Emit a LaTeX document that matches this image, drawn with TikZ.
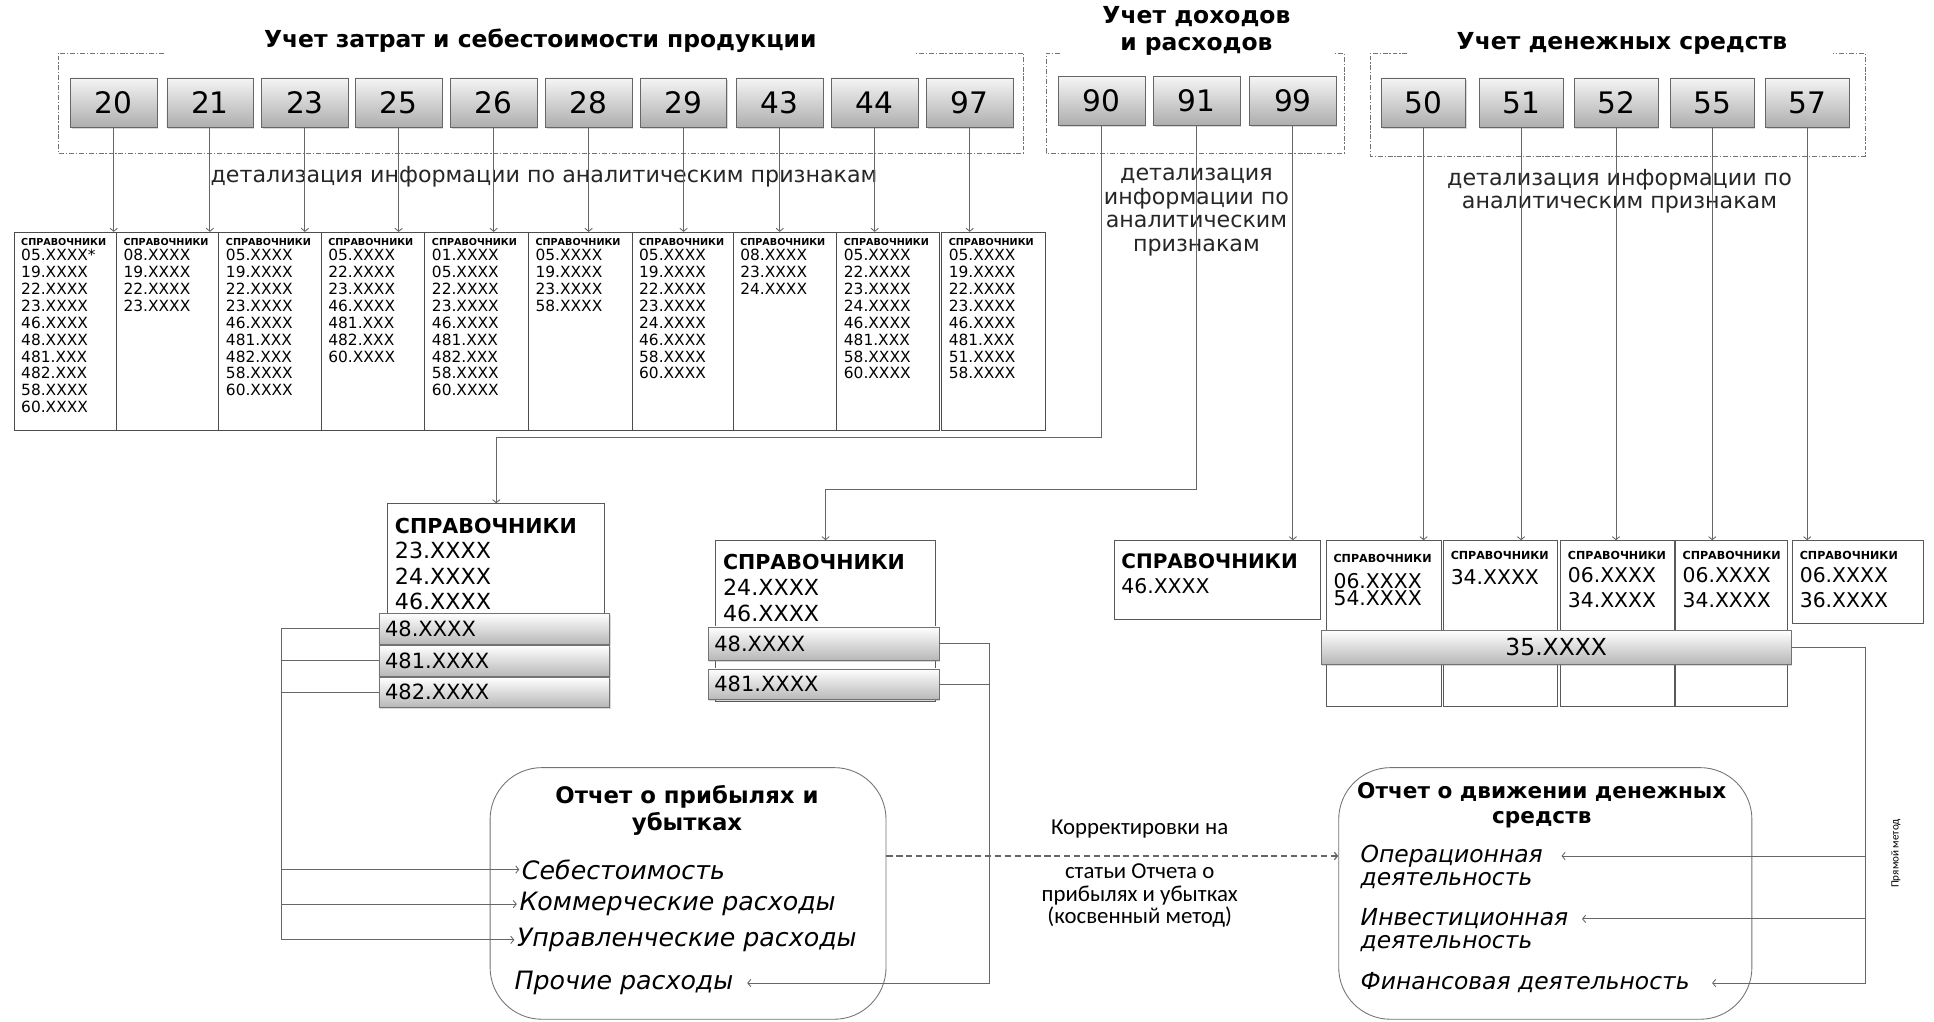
\documentclass[tikz,border=0pt]{standalone}
\usepackage{fontspec}
\setmainfont{DejaVu Sans}
\newfontfamily\calibri{Carlito}
\usetikzlibrary{arrows.meta,shadows}
\newcommand{\fsz}[2]{\fontsize{#1}{#2}\selectfont}
\newcommand{\sprhdr}{{\fsz{7.8}{10}\bfseries СПРАВОЧНИКИ}}
\newcommand{\sprsmall}{{\fsz{9}{10}\bfseries СПРАВОЧНИКИ}}

\begin{document}
\begin{tikzpicture}[x=1pt,y=-1pt,>={Straight Barb[length=2.5pt,width=6pt]},
    conn/.style={draw=black!60,line width=0.7pt},
    frame/.style={draw=black!55,line width=0.6pt,dash pattern=on 4pt off 1.5pt on 1pt off 1.5pt},
    title/.style={font=\fsz{19}{22}\bfseries,align=center},
    note/.style={font=\fsz{18}{18},align=center,text=black!85},
    acc/.style={draw=black!60,top color=black!4,bottom color=black!32,anchor=north west,
        minimum width=70pt,minimum height=40pt,inner sep=0pt,font=\fsz{24}{24},
        drop shadow={opacity=0.3,shadow xshift=1pt,shadow yshift=-1.5pt}},
    col/.style={draw=black!70,line width=0.7pt,anchor=north west,minimum height=161pt,inner sep=0pt},
    list/.style={anchor=north west,align=left,inner sep=0pt,font=\fsz{12.5}{13.7}},
    sbox/.style={draw=black!65,line width=0.7pt,anchor=north west,inner sep=0pt},
    bar/.style={draw=black!55,top color=white,bottom color=black!28,anchor=north west,
        inner xsep=5pt,inner ysep=0pt,text width=177pt,align=left,font=\fsz{17}{17},
        drop shadow={opacity=0.3,shadow xshift=1pt,shadow yshift=-1.5pt}},
    report/.style={draw=black!55,line width=0.7pt,rounded corners=42pt,anchor=north west},
    item/.style={font=\fsz{20.5}{20}\itshape,anchor=west,inner sep=2pt}]

    \fill[white] (0,0) rectangle (1568,828);
    \useasboundingbox (0,0) rectangle (1568,828);

    % группы счетов
    \node[title] (t1) at (438,33) {Учет затрат и себестоимости продукции};
    \node[title] (t2) at (970,25) {Учет доходов\\и расходов};
    \node[title] (t3) at (1315,35) {Учет денежных средств};
    \draw[frame] (133,43) -| (47,124) -| (830,43) -- (741,43);
    \draw[frame] (859,43) -| (848,124) -| (1090,43) -- (1081,43);
    \draw[frame] (1141,43) -| (1111,127) -| (1512,43) -- (1486,43);

    \foreach \n/\x in {20/57,21/135,23/212,25/288,26/365,28/442,29/519,43/597,44/674,97/751}
        \node[acc] (a\n) at (\x,63) {\n};
    \foreach \n/\x in {90/858,91/935,99/1013}
        \node[acc,minimum height=39pt] (a\n) at (\x,62) {\n};
    \foreach \n/\x in {50/1120,51/1199,52/1276,55/1354,57/1431}
        \node[acc,minimum width=68pt] (a\n) at (\x,63) {\n};

    \node[note] (d1) at (441,143) {детализация информации по аналитическим признакам};
    \node[note,font=\fsz{18}{19}] (d2) at (970,172) {детализация\\информации по\\аналитическим\\признакам};
    \node[note] (d3) at (1313,155) {детализация информации по\\аналитическим признакам};

    % справочники по счетам затрат
    \foreach \n/\x/\w in {20/11/83,21/94/83,23/177/83,25/260/84,26/344/84,28/428/84,29/512/82,43/594/84,44/678/83,97/763/84}
        \node[col,minimum width=\w pt] (c\n) at (\x,188) {};
    \node[list] (l20) at ([shift={(6,5)}]c20.north west) {\sprhdr\\[-1.4pt]05.XXXX*\\19.XXXX\\22.XXXX\\23.XXXX\\46.XXXX\\48.XXXX\\481.XXX\\482.XXX\\58.XXXX\\60.XXXX};
    \node[list] (l21) at ([shift={(6,5)}]c21.north west) {\sprhdr\\[-1.4pt]08.XXXX\\19.XXXX\\22.XXXX\\23.XXXX};
    \node[list] (l23) at ([shift={(6,5)}]c23.north west) {\sprhdr\\[-1.4pt]05.XXXX\\19.XXXX\\22.XXXX\\23.XXXX\\46.XXXX\\481.XXX\\482.XXX\\58.XXXX\\60.XXXX};
    \node[list] (l25) at ([shift={(6,5)}]c25.north west) {\sprhdr\\[-1.4pt]05.XXXX\\22.XXXX\\23.XXXX\\46.XXXX\\481.XXX\\482.XXX\\60.XXXX};
    \node[list] (l26) at ([shift={(6,5)}]c26.north west) {\sprhdr\\[-1.4pt]01.XXXX\\05.XXXX\\22.XXXX\\23.XXXX\\46.XXXX\\481.XXX\\482.XXX\\58.XXXX\\60.XXXX};
    \node[list] (l28) at ([shift={(6,5)}]c28.north west) {\sprhdr\\[-1.4pt]05.XXXX\\19.XXXX\\23.XXXX\\58.XXXX};
    \node[list] (l29) at ([shift={(6,5)}]c29.north west) {\sprhdr\\[-1.4pt]05.XXXX\\19.XXXX\\22.XXXX\\23.XXXX\\24.XXXX\\46.XXXX\\58.XXXX\\60.XXXX};
    \node[list] (l43) at ([shift={(6,5)}]c43.north west) {\sprhdr\\[-1.4pt]08.XXXX\\23.XXXX\\24.XXXX};
    \node[list] (l44) at ([shift={(6,5)}]c44.north west) {\sprhdr\\[-1.4pt]05.XXXX\\22.XXXX\\23.XXXX\\24.XXXX\\46.XXXX\\481.XXX\\58.XXXX\\60.XXXX};
    \node[list] (l97) at ([shift={(6,5)}]c97.north west) {\sprhdr\\[-1.4pt]05.XXXX\\19.XXXX\\22.XXXX\\23.XXXX\\46.XXXX\\481.XXX\\51.XXXX\\58.XXXX};
    \foreach \n in {20,21,23,25,26,28,29,43,44,97}
        \draw[conn,->] (a\n.south) -- (a\n.south |- c\n.north);

    % справочники по счетам 90, 91, 99
    \node[sbox,minimum width=176pt,minimum height=164pt] (s1) at (314,408) {};
    \node[list,font=\fsz{18}{20.5}] (l1) at ([shift={(6,12)}]s1.north west) {{\fsz{16.7}{20.5}\bfseries СПРАВОЧНИКИ}\\23.XXXX\\24.XXXX\\46.XXXX};
    \node[bar,minimum height=25pt] (b48) at (307,497) {48.XXXX};
    \node[bar,minimum height=25pt] (b481) at (307,523) {481.XXXX};
    \node[bar,minimum height=24pt] (b482) at (307,549) {482.XXXX};

    \node[sbox,minimum width=178pt,minimum height=130pt] (s2) at (580,438) {};
    \node[list,font=\fsz{18}{21}] (l2) at ([shift={(6,11)}]s2.north west) {{\fsz{16.7}{21}\bfseries СПРАВОЧНИКИ}\\24.XXXX\\46.XXXX};
    \node[bar,minimum height=27pt] (c48) at (574,508) {48.XXXX};
    \node[bar,minimum height=25pt] (c481) at (574,542) {481.XXXX};

    \node[sbox,minimum width=167pt,minimum height=64pt] (s3) at (903,438) {};
    \node[list,font=\fsz{16.5}{20}] (l3) at ([shift={(6,11)}]s3.north west) {{\fsz{16.2}{20}\bfseries СПРАВОЧНИКИ}\\46.XXXX};

    \coordinate (k90) at (0,355);
    \coordinate (k91) at (0,397);
    \draw[conn,->] (a90.south) -- (a90.south |- k90) -| (s1.north);
    \draw[conn,->] (a91.south) -- (a91.south |- k91) -| (s2.north);
    \draw[conn,->] (a99.south) -- (a99.south |- s3.north);

    % справочники по денежным счетам
    \foreach \n/\x/\w in {50/1075/93,51/1170/92,52/1265/92,55/1358/91}
        \node[sbox,minimum width=\w pt,minimum height=134pt] (r\n) at (\x,438) {};
    \node[sbox,minimum width=106pt,minimum height=67pt] (r57) at (1453,438) {};
    \node[list,font=\fsz{16.5}{20}] (q50) at ([shift={(6,11)}]r50.north west) {\sprsmall\\[1pt]06.XXXX\\[-6pt]54.XXXX};
    \node[list,font=\fsz{16.5}{20}] (q51) at ([shift={(6,9)}]r51.north west) {\sprsmall\\34.XXXX};
    \node[list,font=\fsz{16.5}{20}] (q52) at ([shift={(6,9)}]r52.north west) {\sprsmall\\[-1.5pt]06.XXXX\\34.XXXX};
    \node[list,font=\fsz{16.5}{20}] (q55) at ([shift={(6,9)}]r55.north west) {\sprsmall\\[-1.5pt]06.XXXX\\34.XXXX};
    \node[list,font=\fsz{16.5}{20}] (q57) at ([shift={(6,9)}]r57.north west) {\sprsmall\\[-1.5pt]06.XXXX\\36.XXXX};
    \node[bar,minimum width=381pt,minimum height=27pt,text width=371pt,align=center,font=\fsz{19}{19}] (b35) at (1071,511) {35.XXXX};
    \foreach \n in {50,51,52,55,57}
        \draw[conn,->] (a\n.south) -- (a\n.south |- r\n.north);

    % отчеты
    \node[report,minimum width=321pt,minimum height=204pt] (pl) at (397,622) {};
    \node[font=\fsz{18.5}{22}\bfseries,align=center] (plt) at (557,657) {Отчет о прибылях и\\убытках};
    \node[item] (sebe) at (421,705) {Себестоимость};
    \node[item] (komm) at (419,733) {Коммерческие расходы};
    \node[item] (upr) at (417,762) {Управленческие расходы};
    \node[item] (proch) at (415,797) {Прочие расходы};

    \node[report,minimum width=335pt,minimum height=204pt] (cf) at (1085,622) {};
    \node[font=\fsz{17.5}{20}\bfseries,align=center] (cft) at (1250,653) {Отчет о движении денежных\\средств};
    \node[item,font=\fsz{19}{20}\itshape] (oper) at (1101,694) {Операционная};
    \node[item,font=\fsz{19}{20}\itshape] (oper2) at (1101,714) {деятельность};
    \node[item,font=\fsz{19}{20}\itshape] (inv) at (1101,745) {Инвестиционная};
    \node[item,font=\fsz{19}{20}\itshape] (inv2) at (1101,765) {деятельность};
    \node[item,font=\fsz{19}{20}\itshape] (fin) at (1101,797) {Финансовая деятельность};

    \node[font=\calibri\fsz{18.5}{18.5}] (korr) at (924,672) {Корректировки на};
    \node[font=\calibri\fsz{18.5}{18.5},align=center] (stat) at (924,726) {статьи Отчета о\\прибылях и убытках\\(косвенный метод)};
    \draw[conn,line width=1pt,dash pattern=on 5pt off 3pt,->] (pl.east |- oper) -- (cf.west |- oper);

    \node[rotate=90,font=\calibri\fsz{9}{9}] (pm) at (1537,692) {Прямой метод};

    % связи со статьями отчетов
    \coordinate (busL) at (228,0);
    \coordinate (busM) at (802,0);
    \coordinate (busR) at (1512,0);
    \draw[conn,->] (b48.west) -| (busL |- upr) -- (upr.west);
    \draw[conn] (b481.west) -- (b481.west -| busL);
    \draw[conn] (b482.west) -- (b482.west -| busL);
    \draw[conn,->] (busL |- sebe) -- (sebe.west);
    \draw[conn,->] (busL |- komm) -- (komm.west);
    \draw[conn,->] (c48.east) -| (busM |- proch) -- ([xshift=9pt]proch.east);
    \draw[conn] (c481.east) -- (c481.east -| busM);
    \draw[conn,->] (b35.east) -| (busR |- fin) -- ([xshift=16pt]fin.east);
    \draw[conn,->] (busR |- oper) -- ([xshift=13pt]oper.east);
    \draw[conn,->] (busR |- inv) -- ([xshift=9pt]inv.east);
\end{tikzpicture}
\end{document}
